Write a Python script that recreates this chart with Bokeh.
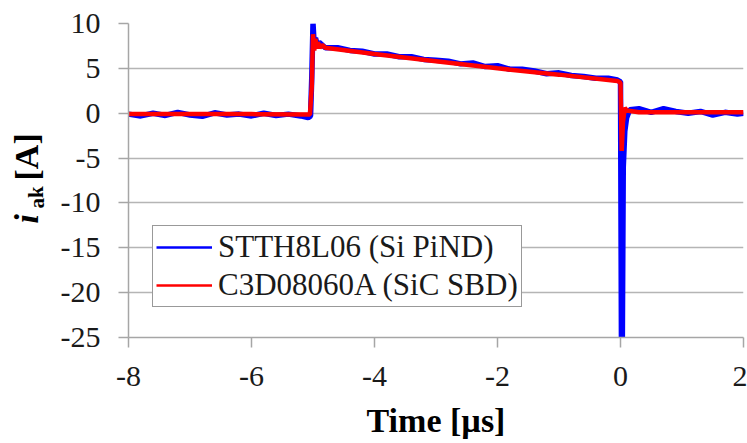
from bokeh.plotting import figure
from bokeh.layouts import row, column
from bokeh.models import Range1d, Legend, LegendItem, Label, FixedTicker, PrintfTickFormatter
from bokeh.embed import file_html
from bokeh.resources import INLINE

# Axis ticks
x_ticks = [-8, -6, -4, -2, 0, 2]
y_ticks = [-25, -20, -15, -10, -5, 0, 5, 10]

# STTH8L06 (Si PiND) anode-cathode current, time in µs, current in A
si_t = [-8.0, -7.8, -7.6, -7.4, -7.2, -7.0, -6.8, -6.6, -6.4, -6.2, -6.0,
        -5.8, -5.6, -5.4, -5.2, -5.08, -5.04, -5.02, -5.0, -4.98, -4.96,
        -4.93, -4.9, -4.8, -4.6, -4.4, -4.2, -4.0, -3.8, -3.6, -3.4, -3.2,
        -3.0, -2.8, -2.6, -2.4, -2.2, -2.0, -1.8, -1.6, -1.4, -1.2, -1.0,
        -0.8, -0.6, -0.4, -0.2, -0.05, 0.0, 0.015, 0.03, 0.045, 0.07, 0.1,
        0.15, 0.3, 0.5, 0.7, 0.9, 1.1, 1.3, 1.5, 1.7, 1.9, 2.0]
si_i = [-0.1, -0.3, 0.0, -0.25, 0.1, -0.2, -0.35, 0.05, -0.2, -0.1, -0.3,
        0.0, -0.25, -0.1, -0.3, -0.5, -0.3, 4.0, 10.0, 7.6, 8.4,
        7.6, 7.9, 7.3, 7.3, 7.0, 6.9, 6.6, 6.6, 6.3, 6.3, 6.0,
        5.9, 5.8, 5.5, 5.6, 5.2, 5.3, 4.9, 4.9, 4.7, 4.4, 4.5,
        4.2, 4.1, 3.9, 3.9, 3.7, 3.5, -25.0, -25.0, -6.0, -2.0, -0.5,
        0.4, 0.5, 0.1, 0.5, 0.2, 0.0, 0.2, -0.2, 0.1, -0.1, 0.0]

# C3D08060A (SiC SBD) anode-cathode current
sic_t = [-8.0, -7.0, -6.0, -5.05, -5.02, -5.0, -4.98, -4.96, -4.94, -4.92,
         -4.89, -4.85, -4.8, -4.0, -3.0, -2.0, -1.0, -0.05, 0.0, 0.02,
         0.04, 0.07, 0.1, 0.3, 2.0]
sic_i = [-0.1, -0.1, -0.1, -0.15, 3.0, 8.8, 7.0, 8.3, 7.2, 7.9,
         7.3, 7.6, 7.3, 6.6, 5.8, 5.0, 4.3, 3.6, 3.4, -4.2,
         -1.0, 0.6, 0.3, 0.1, 0.1]

series_names = ["STTH8L06 (Si PiND)", "C3D08060A (SiC SBD)"]
series_colors = ["#0000ff", "#ff0000"]

SERIF = "Liberation Serif"
GREY = "#a6a6a6"

# Main chart
p = figure(width=697, height=443, output_backend="svg", toolbar_location=None,
           x_range=Range1d(-8, 2), y_range=Range1d(-25, 10),
           min_border_left=78, min_border_right=4,
           min_border_top=23, min_border_bottom=106)
p.outline_line_color = None
p.xgrid.visible = False
p.ygrid.grid_line_color = "#b5b5b5"
p.ygrid.grid_line_width = 1.5

p.xaxis.ticker = FixedTicker(ticks=x_ticks)
p.yaxis.ticker = FixedTicker(ticks=y_ticks)
for ax in (p.xaxis[0], p.yaxis[0]):
    ax.formatter = PrintfTickFormatter(format="%d")
    ax.axis_line_color = GREY
    ax.axis_line_width = 1.5
    ax.major_tick_line_color = GREY
    ax.major_tick_line_width = 1.5
    ax.major_tick_out = 10
    ax.major_tick_in = 0
    ax.minor_tick_line_color = None
    ax.major_label_text_font = SERIF
    ax.major_label_text_font_size = "30px"
    ax.major_label_text_color = "#1a1a1a"
p.yaxis.major_label_standoff = 18
p.xaxis.major_label_standoff = 19

p.xaxis.axis_label = "Time [µs]"
p.xaxis.axis_label_text_font = SERIF
p.xaxis.axis_label_text_font_size = "34px"
p.xaxis.axis_label_text_font_style = "bold"
p.xaxis.axis_label_text_color = "#000000"
p.xaxis.axis_label_standoff = 13

# Traces
p.line(si_t, si_i, line_color=series_colors[0], line_width=5.5)
p.line(sic_t, sic_i, line_color=series_colors[1], line_width=4.5)

# Thin lines used as legend keys (placed left of the visible x range)
key_si = p.line([-9, -9], [0, 0], line_color=series_colors[0], line_width=2.5)
key_sic = p.line([-9, -9], [0, 0], line_color=series_colors[1], line_width=2.5)

legend = Legend(items=[LegendItem(label=series_names[0], renderers=[key_si]),
                       LegendItem(label=series_names[1], renderers=[key_sic])],
                location=(24, 30), orientation="vertical",
                border_line_color="#333333", border_line_width=1.5,
                background_fill_color="white", background_fill_alpha=1.0,
                label_text_font=SERIF, label_text_font_size="31px",
                label_text_color="#1a1a1a",
                glyph_width=56, glyph_height=28, label_height=28,
                spacing=2, padding=3, margin=0, label_standoff=6)
p.add_layout(legend)

# Rotated y-axis title i_ak [A], in a strip whose data units are pixels
left = figure(width=50, height=443, output_backend="svg", toolbar_location=None,
              x_range=Range1d(0, 50), y_range=Range1d(0, 443),
              x_axis_type=None, y_axis_type=None, title=None,
              min_border=0, min_border_left=0, min_border_right=0,
              min_border_top=0, min_border_bottom=0)
left.outline_line_color = None
ylab = dict(angle=1.5708, text_font=SERIF, text_color="#000000",
            text_align="left", text_baseline="bottom")
left.add_layout(Label(x=44, y=220, text="i", text_font_size="34px",
                      text_font_style="bold italic", **ylab))
left.add_layout(Label(x=48, y=235, text="ak", text_font_size="21px",
                      text_font_style="bold", **ylab))
left.add_layout(Label(x=45, y=263, text="[A]", text_font_size="34px",
                      text_font_style="bold", **ylab))

layout = row(left, column(p, spacing=0), spacing=0)
open("out.html", "w").write(file_html(layout, INLINE))
